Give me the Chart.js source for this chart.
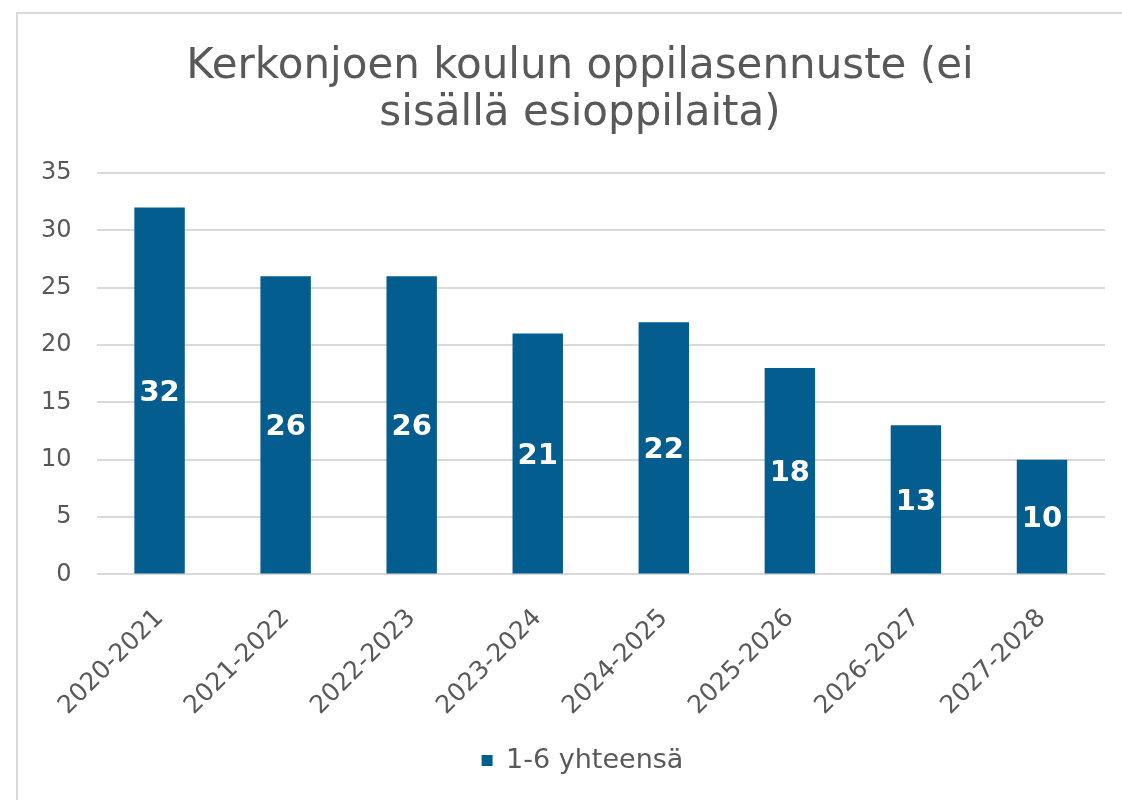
<!DOCTYPE html>
<html lang="fi">
<head>
    <meta charset="UTF-8">
    <title>Kerkonjoen koulun oppilasennuste</title>
    <script src="https://cdn.jsdelivr.net/npm/chart.js"></script>
    <style>
        html, body { margin: 0; padding: 0; background: #f2f2f2; }
        #wrap { position: absolute; left: 0; top: 0; width: 1122px; height: 800px; background: #ffffff; }
        #frame { position: absolute; left: 16px; top: 12px; right: -4px; bottom: -4px; border: 2px solid #d9d9d9; }
        canvas { position: absolute; left: 0; top: 0; }
    </style>
</head>
<body>
    <div id="wrap">
        <div id="frame"></div>
        <canvas id="chart" width="1122" height="800"></canvas>
    </div>

    <script>
        // Data
        const years = ['2020-2021', '2021-2022', '2022-2023', '2023-2024', '2024-2025', '2025-2026', '2026-2027', '2027-2028'];
        const pupils = [32, 26, 26, 21, 22, 18, 13, 10];
        const seriesName = '1-6 yhteensä';
        const titleLines = ['Kerkonjoen koulun oppilasennuste (ei', 'sisällä esioppilaita)'];

        const textGray = '#595959';
        const barBlue = '#035d8f';

        // white value labels in the middle of each bar
        const barLabels = {
            id: 'barLabels',
            afterDatasetsDraw(chart) {
                const ctx = chart.ctx;
                const meta = chart.getDatasetMeta(0);
                ctx.save();
                ctx.fillStyle = '#ffffff';
                ctx.font = 'bold 29px "DejaVu Sans"';
                ctx.textAlign = 'center';
                ctx.textBaseline = 'middle';
                meta.data.forEach((bar, i) => {
                    const mid = (bar.y + bar.base) / 2;
                    ctx.fillText(chart.data.datasets[0].data[i], bar.x, mid + 3);
                });
                ctx.restore();
            }
        };

        // the original title and legend are centred a bit right of the canvas middle
        const centreShift = {
            id: 'centreShift',
            afterLayout(chart) {
                if (chart.titleBlock) chart.titleBlock.left = 55;
                if (chart.legend) {
                    chart.legend.left = 60;
                    chart.legend.adjustHitBoxes();
                }
            }
        };

        new Chart(document.getElementById('chart'), {
            type: 'bar',
            data: {
                labels: years,
                datasets: [{
                    label: seriesName,
                    data: pupils,
                    backgroundColor: barBlue,
                    barPercentage: 0.4,
                    categoryPercentage: 1.0
                }]
            },
            options: {
                responsive: false,
                animation: false,
                layout: { padding: { left: 16, right: 17, top: 14, bottom: 16 } },
                plugins: {
                    title: {
                        display: true,
                        text: titleLines,
                        color: textGray,
                        font: { family: 'DejaVu Sans', size: 42, weight: 'normal', lineHeight: 1.12 },
                        padding: { top: 30, bottom: 35 }
                    },
                    legend: {
                        position: 'bottom',
                        labels: {
                            color: textGray,
                            font: { family: 'DejaVu Sans', size: 27 },
                            usePointStyle: true,
                            pointStyle: 'rect',
                            boxWidth: 11,
                            boxHeight: 11,
                            padding: 5
                        }
                    },
                    tooltip: { enabled: false }
                },
                scales: {
                    x: {
                        grid: { display: false },
                        border: { display: false },
                        ticks: {
                            color: textGray,
                            font: { family: 'DejaVu Sans', size: 25 },
                            minRotation: 45,
                            maxRotation: 45,
                            padding: 21
                        },
                        // let the rotated labels hang over the y axis area
                        afterFit(scale) {
                            scale.paddingLeft = 0;
                            scale.paddingRight = 0;
                        }
                    },
                    y: {
                        min: 0,
                        max: 35,
                        grid: { color: '#d9d9d9', lineWidth: 2, drawTicks: false },
                        border: { display: false },
                        ticks: {
                            stepSize: 5,
                            color: textGray,
                            font: { family: 'DejaVu Sans', size: 24 },
                            padding: 25
                        }
                    }
                }
            },
            plugins: [barLabels, centreShift]
        });
    </script>
</body>
</html>
